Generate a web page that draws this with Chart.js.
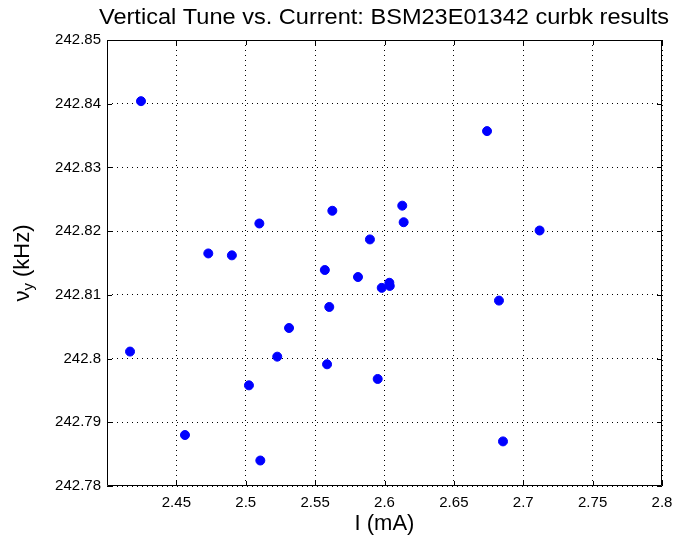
<!DOCTYPE html>
<html>
<head>
<meta charset="utf-8">
<script src="https://cdn.jsdelivr.net/npm/chart.js@4"></script>
<style>
  html, body { margin: 0; padding: 0; background: #fff; }
  #wrap { width: 675px; height: 539px; }
</style>
</head>
<body>
<div id="wrap"><canvas id="tuneChart"></canvas></div>
<script>
// data
const currentMA = [2.4245, 2.473, 2.490, 2.5098, 2.5624, 2.5895, 2.557, 2.6739, 2.6128, 2.6138,
  2.7118, 2.4166, 2.4562, 2.5105, 2.5023, 2.5227, 2.5312, 2.5602, 2.5586, 2.5809,
  2.598, 2.6035, 2.6038, 2.5951, 2.6825, 2.6854];
const tuneKHz = [242.8404, 242.8165, 242.8162, 242.8212, 242.8232, 242.8187, 242.8139, 242.8357, 242.8240, 242.8214,
  242.8201, 242.8011, 242.7880, 242.7840, 242.7958, 242.8003, 242.8048, 242.8081, 242.7991, 242.8128,
  242.8111, 242.8119, 242.8114, 242.7968, 242.8091, 242.7870];

const xTicks = [2.45, 2.5, 2.55, 2.6, 2.65, 2.7, 2.75, 2.8];
const yTicks = [242.78, 242.79, 242.8, 242.81, 242.82, 242.83, 242.84, 242.85];
const xTickLabels = ['2.45', '2.5', '2.55', '2.6', '2.65', '2.7', '2.75', '2.8'];
const yTickLabels = ['242.78', '242.79', '242.8', '242.81', '242.82', '242.83', '242.84', '242.85'];

const titleText = 'Vertical Tune vs. Current: BSM23E01342 curbk results';
const FONT = '"Liberation Sans", Arial, sans-serif';

const points = currentMA.map((x, i) => ({ x: x, y: tuneKHz[i] }));

// box, inner tick marks and text labels, MATLAB style
const matlabFrame = {
  id: 'matlabFrame',
  afterDraw(chart) {
    const ctx = chart.ctx;
    const a = chart.chartArea;
    const xs = chart.scales.x, ys = chart.scales.y;
    ctx.save();
    ctx.strokeStyle = '#000';
    ctx.lineWidth = 1;
    ctx.beginPath();
    ctx.rect(a.left + 0.5, a.top + 0.5, a.right - a.left - 1, a.bottom - a.top - 1);
    ctx.stroke();

    // little ticks pointing in
    const len = 5;
    ctx.beginPath();
    xTicks.forEach(v => {
      const px = Math.round(xs.getPixelForValue(v)) + 0.5;
      ctx.moveTo(px, a.bottom); ctx.lineTo(px, a.bottom - len);
      ctx.moveTo(px, a.top); ctx.lineTo(px, a.top + len);
    });
    yTicks.forEach(v => {
      const py = Math.round(ys.getPixelForValue(v)) + 0.5;
      ctx.moveTo(a.left, py); ctx.lineTo(a.left + len, py);
      ctx.moveTo(a.right, py); ctx.lineTo(a.right - len, py);
    });
    ctx.stroke();

    ctx.fillStyle = '#000';
    // title, stretched a bit to the original's width
    ctx.font = '22px ' + FONT;
    ctx.textAlign = 'center';
    ctx.textBaseline = 'middle';
    const tw = ctx.measureText(titleText).width;
    ctx.save();
    ctx.translate(384, 18);
    ctx.scale(570 / tw, 1);
    ctx.fillText(titleText, 0, 0);
    ctx.restore();

    // x label
    ctx.font = '22px ' + FONT;
    ctx.fillText('I (mA)', (a.left + a.right) / 2, 524);

    // y label with subscript
    ctx.translate(23, (a.top + a.bottom) / 2);
    ctx.rotate(-Math.PI / 2);
    const nu = '\u03BD';
    const rest = ' (kHz)';
    ctx.font = '22px ' + FONT;
    const wNu = ctx.measureText(nu).width;
    const wRest = ctx.measureText(rest).width;
    ctx.font = '15px ' + FONT;
    const wSub = ctx.measureText('y').width;
    const start = -(wNu + wSub + wRest) / 2;
    ctx.textAlign = 'left';
    ctx.font = '22px ' + FONT;
    ctx.fillText(nu, start, 0);
    ctx.font = '15px ' + FONT;
    ctx.fillText('y', start + wNu, 6);
    ctx.font = '22px ' + FONT;
    ctx.fillText(rest, start + wNu + wSub, 0);
    ctx.restore();
  }
};

const config = {
  type: 'scatter',
  data: {
    datasets: [{
      data: points,
      backgroundColor: '#0000ff',
      borderColor: '#0000ff',
      pointRadius: 4.5,
      pointHoverRadius: 4.5
    }]
  },
  options: {
    responsive: false,
    animation: false,
    devicePixelRatio: 1,
    layout: { padding: { top: 40, right: 13, left: 0, bottom: 0 } },
    plugins: { legend: { display: false }, tooltip: { enabled: false }, title: { display: false } },
    scales: {
      x: {
        type: 'linear',
        min: 2.4, max: 2.8,
        afterBuildTicks: s => { s.ticks = xTicks.map(v => ({ value: v })); },
        afterFit: s => { s.height = 53; s.paddingLeft = 0; s.paddingRight = 0; },
        ticks: {
          color: '#000',
          font: { family: FONT, size: 15 },
          padding: 8,
          maxRotation: 0,
          callback: (v) => xTickLabels[xTicks.indexOf(v)] ?? ''
        },
        grid: {
          color: '#000',
          lineWidth: 1,
          drawTicks: false
        },
        border: { display: false, dash: [1, 4] }
      },
      y: {
        type: 'linear',
        min: 242.78, max: 242.85,
        afterBuildTicks: s => { s.ticks = yTicks.map(v => ({ value: v })); },
        afterFit: s => { s.width = 107; s.paddingTop = 0; s.paddingBottom = 0; },
        ticks: {
          color: '#000',
          font: { family: FONT, size: 15 },
          padding: 6,
          callback: (v) => {
            const i = yTicks.findIndex(t => Math.abs(t - v) < 1e-6);
            return i >= 0 ? yTickLabels[i] : '';
          }
        },
        grid: {
          color: '#000',
          lineWidth: 1,
          drawTicks: false
        },
        border: { display: false, dash: [1, 4] }
      }
    }
  },
  plugins: [matlabFrame]
};

const canvas = document.getElementById('tuneChart');
canvas.width = 675;
canvas.height = 539;
const tuneChart = new Chart(canvas, config);
</script>
</body>
</html>
